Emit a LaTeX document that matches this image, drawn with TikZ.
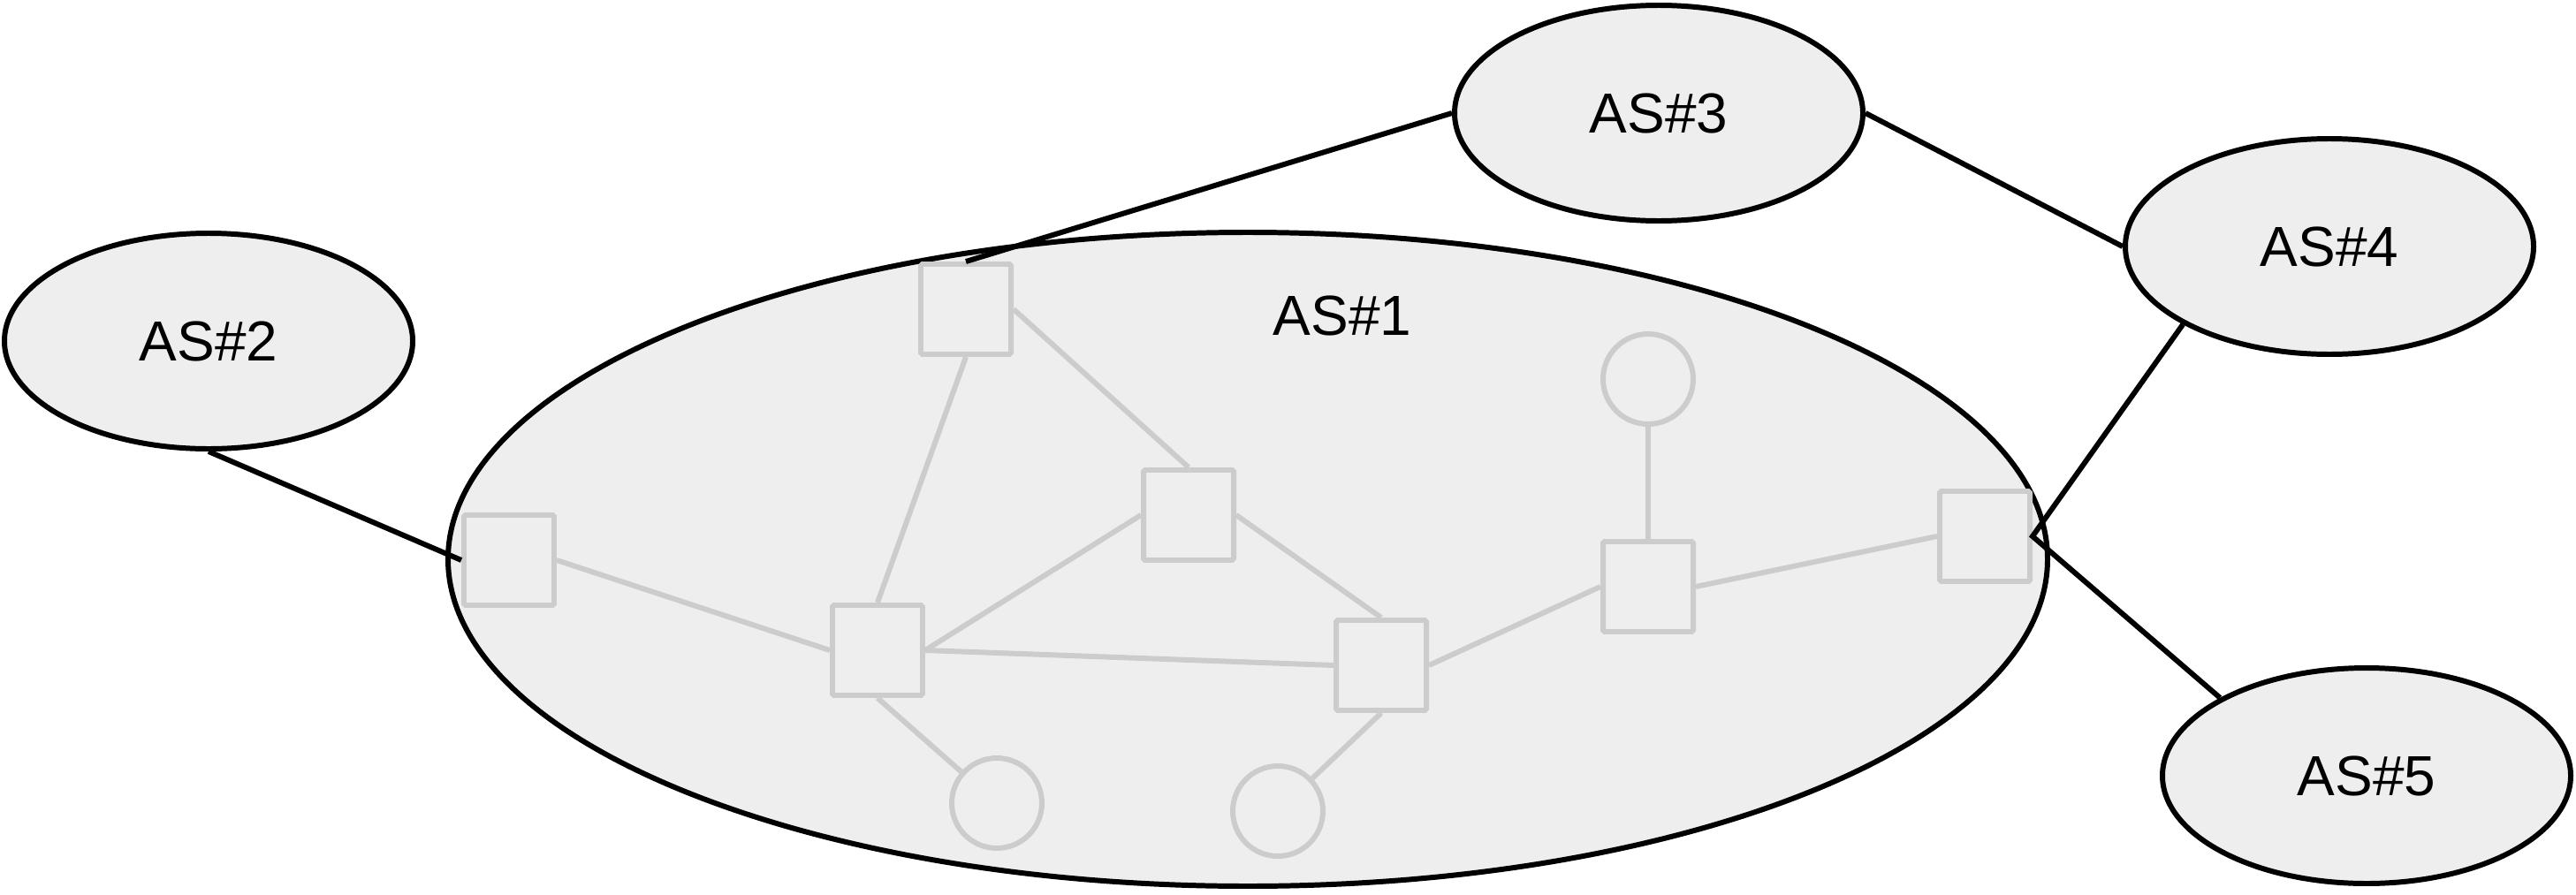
\documentclass[tikz,border=0pt]{standalone}
\usepackage{fontspec}
\setmainfont{Liberation Sans}
\usetikzlibrary{shapes.geometric, backgrounds}
\definecolor{asfill}{HTML}{EEEEEE}
\definecolor{netgray}{HTML}{CCCCCC}
\begin{document}
\begin{tikzpicture}[
        every node/.append style = {font = \fontsize{18.2}{22}\selectfont},
        asdomain/.style = {ellipse, draw, fill = asfill, line width = 1.7pt, inner sep = 0pt},
        smallas/.style = {asdomain, minimum width = 4.62cm, minimum height = 2.44cm},
        router/.style = {rectangle, draw = netgray, fill = asfill, line width = 1.7pt, rounded corners = 0.5pt, minimum size = 1.02cm, inner sep = 0pt},
        host/.style = {circle, draw = netgray, fill = asfill, line width = 1.7pt, minimum size = 1.02cm, inner sep = 0pt},
        link/.style = {draw = netgray, line width = 1.7pt},
        peering/.style = {draw = black, line width = 1.7pt}
    ]
        \useasboundingbox (0,0) rectangle (29.15,10.12);

        % the big domain
        \begin{scope}[on background layer]
            \node[asdomain, minimum width = 18.1cm, minimum height = 7.4cm] (as1) at (14.12,3.79) {};
        \end{scope}
        \node (as1label) at (15.19,6.55) {AS\#1};

        % neighbouring domains
        \node[smallas] (as2) at (2.36,6.26) {AS\#2};
        \node[smallas] (as3) at (18.77,8.84) {AS\#3};
        \node[smallas] (as4) at (26.36,7.33) {AS\#4};
        \node[smallas] (as5) at (26.78,1.34) {AS\#5};

        % routers and hosts inside AS#1
        \foreach \name/\pos in {r1/{(5.76,3.78)}, r2/{(10.93,6.62)}, r3/{(13.45,4.29)}, r4/{(9.93,2.76)}, r5/{(15.63,2.59)}, r6/{(18.65,3.48)}, r7/{(22.46,4.05)}} {
            \node[router] (\name) at \pos {};
        }
        \foreach \name/\pos in {h1/{(18.65,5.83)}, h2/{(11.28,1.03)}, h3/{(14.46,0.94)}} {
            \node[host] (\name) at \pos {};
        }

        % internal links, behind the nodes
        \begin{scope}[on background layer]
            \foreach \a/\b in {r1.east/r4.west, r2.south/r4.north, r2.east/r3.north, r3.west/r4.east, r3.east/r5.north, r4.east/r5.west, r4.south/h2, r5.south/h3, r5.east/r6.west, r6.north/h1.south, r6.east/r7.west} {
                \draw[link] (\a) -- (\b);
            }
        \end{scope}

        % links between the domains
        \draw[peering] (as2.south) -- (r1.west);
        \draw[peering] (r2.north) -- (as3.west);
        \draw[peering] (as3.east) -- (as4.west);
        \draw[peering] (as4.208) -- (r7.east) -- (as5.152);
    \end{tikzpicture}
\end{document}
